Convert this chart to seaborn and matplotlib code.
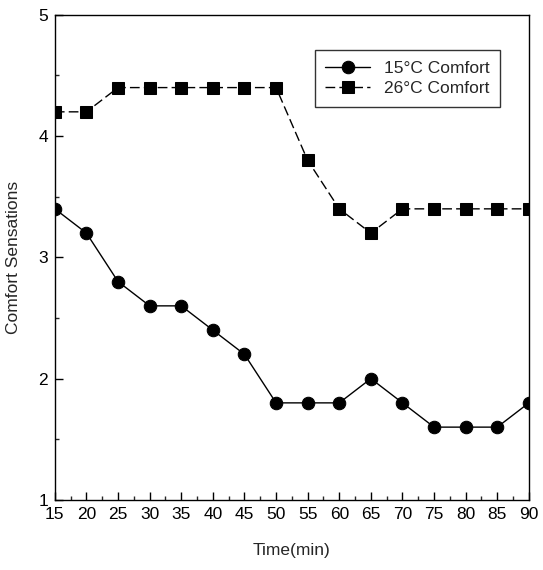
import numpy as np
import pandas as pd
import matplotlib
matplotlib.use("Agg")
import matplotlib.pyplot as plt
import seaborn as sns
from matplotlib.ticker import MultipleLocator

# data
time_min = [15, 20, 25, 30, 35, 40, 45, 50, 55, 60, 65, 70, 75, 80, 85, 90]
comfort_15c = [3.4, 3.2, 2.8, 2.6, 2.6, 2.4, 2.2, 1.8, 1.8, 1.8, 2.0, 1.8, 1.6, 1.6, 1.6, 1.8]
comfort_26c = [4.2, 4.2, 4.4, 4.4, 4.4, 4.4, 4.4, 4.4, 3.8, 3.4, 3.2, 3.4, 3.4, 3.4, 3.4, 3.4]
series_labels = ["15°C Comfort", "26°C Comfort"]

df = pd.DataFrame({
    "Time": time_min * 2,
    "Comfort": comfort_15c + comfort_26c,
    "Series": [series_labels[0]] * len(time_min) + [series_labels[1]] * len(time_min),
})

sns.set_theme(style="white")
plt.rcParams["font.family"] = ["Liberation Sans", "DejaVu Sans"]

fig = plt.figure(figsize=(5.43, 5.70), dpi=100)
ax = fig.add_axes([0.101, 0.123, 0.873, 0.851])

sns.lineplot(data=df, x="Time", y="Comfort", style="Series", markers=["o", "s"],
             dashes=[(None, None), (7, 3)], color="black", linewidth=1.0,
             markersize=9, markeredgecolor="black", ax=ax)

ax.set_xlim(15, 90)
ax.set_ylim(1, 5)
ax.xaxis.set_major_locator(MultipleLocator(5))
ax.xaxis.set_minor_locator(MultipleLocator(2.5))
ax.yaxis.set_major_locator(MultipleLocator(1))
ax.yaxis.set_minor_locator(MultipleLocator(0.5))
ax.tick_params(which="major", direction="in", length=6, width=1, colors="black",
               labelsize=12.5, left=True, bottom=True, pad=5)
ax.tick_params(which="minor", direction="in", length=3, width=1, left=True, bottom=True)
for s in ax.spines.values():
    s.set_color("black")
    s.set_linewidth(1.0)

ax.set_xlabel("Time(min)", fontsize=12.5, labelpad=15)
ax.set_ylabel("Comfort Sensations", fontsize=12.5, labelpad=12)

leg = ax.legend(loc="upper left", bbox_to_anchor=(0.53, 0.945), fontsize=12.5,
                frameon=True, fancybox=False, edgecolor="black", handlelength=2.6,
                borderpad=0.6, labelspacing=0.3, title=None)
leg.get_frame().set_linewidth(1.0)

fig.savefig("out.png", dpi=100)
